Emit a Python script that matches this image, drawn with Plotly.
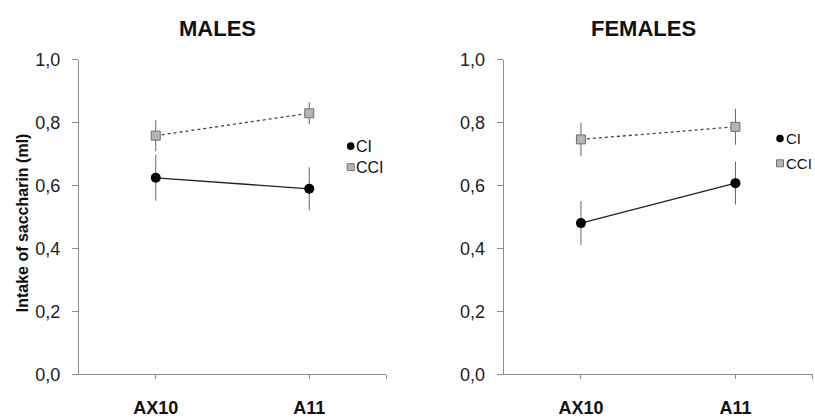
import plotly.graph_objects as go

categories = ["AX10", "A11"]
x_pos = [0, 1]

males_ci = [0.625, 0.590]
males_ci_err = [0.073, 0.068]
males_cci = [0.759, 0.830]
males_cci_err = [0.050, 0.035]

females_ci = [0.481, 0.608]
females_ci_err = [0.070, 0.068]
females_cci = [0.747, 0.787]
females_cci_err = [0.053, 0.057]

panel_titles = ["MALES", "FEMALES"]
y_title = "Intake of saccharin (ml)"
legend_names = ["CI", "CCI"]

W, H = 815, 419
FONT = "Liberation Sans, Arial, sans-serif"

fig = go.Figure()

def add_panel(xa, ya, ci, ci_err, cci, cci_err):
    fig.add_trace(go.Scatter(
        x=x_pos, y=cci, xaxis=xa, yaxis=ya, mode="lines+markers",
        line=dict(color="#444444", width=1.3, dash="dot"),
        marker=dict(symbol="square", size=9, color="#b5b5b5",
                    line=dict(color="#707070", width=1)),
        error_y=dict(type="data", array=cci_err, visible=True,
                     color="#666666", thickness=1, width=0),
        showlegend=False, name=legend_names[1]))
    fig.add_trace(go.Scatter(
        x=x_pos, y=ci, xaxis=xa, yaxis=ya, mode="lines+markers",
        line=dict(color="#222222", width=1.3),
        marker=dict(symbol="circle", size=10, color="#000000"),
        error_y=dict(type="data", array=ci_err, visible=True,
                     color="#666666", thickness=1, width=0),
        showlegend=False, name=legend_names[0]))

add_panel("x", "y", males_ci, males_ci_err, males_cci, males_cci_err)
add_panel("x2", "y2", females_ci, females_ci_err, females_cci, females_cci_err)

ydom = [(H - 382.7) / H, (H - 52.3) / H]
xdom1 = [79 / W, 386 / W]
xdom2 = [503.7 / W, 812.7 / W]

xcommon = dict(range=[-0.5, 1.5], tickmode="array",
               tickvals=[0, 1, 1.5], ticktext=categories + [""],
               showline=True, linecolor="#8c8c8c", linewidth=1,
               ticks="outside", ticklen=4, tickcolor="#8c8c8c",
               showgrid=False, zeroline=False,
               tickfont=dict(family=FONT, size=18, color="#111111", weight="bold"),
               ticklabelstandoff=13, fixedrange=True)
ycommon = dict(range=[0, 1], tickmode="array",
               tickvals=[0, 0.2, 0.4, 0.6, 0.8, 1.0], tickformat=".1f",
               showline=True, linecolor="#8c8c8c", linewidth=1,
               ticks="outside", ticklen=6, tickcolor="#8c8c8c",
               showgrid=False, zeroline=False,
               tickfont=dict(family=FONT, size=18, color="#222222"),
               ticklabelstandoff=8, fixedrange=True)

fig.update_layout(
    width=W, height=H, margin=dict(l=0, r=0, t=0, b=0),
    paper_bgcolor="white", plot_bgcolor="white",
    separators=",.",
    xaxis=dict(domain=xdom1, anchor="y", **xcommon),
    yaxis=dict(domain=ydom, anchor="x", **ycommon),
    xaxis2=dict(domain=xdom2, anchor="y2", **xcommon),
    yaxis2=dict(domain=ydom, anchor="x2", **ycommon),
)

annotations = [
    dict(text=panel_titles[0], x=217 / W, y=1 - 19 / H, xref="paper", yref="paper",
         xanchor="center", yanchor="middle", showarrow=False,
         font=dict(family=FONT, size=22, color="#111111", weight="bold")),
    dict(text=panel_titles[1], x=643 / W, y=1 - 19 / H, xref="paper", yref="paper",
         xanchor="center", yanchor="middle", showarrow=False,
         font=dict(family=FONT, size=22, color="#111111", weight="bold")),
    dict(text=y_title, x=22 / W, y=1 - 224 / H, xref="paper", yref="paper",
         xanchor="center", yanchor="middle", showarrow=False, textangle=-90,
         font=dict(family=FONT, size=16, color="#111111", weight="bold")),
]

shapes = []
legend_pos = [(350.7, 143, 165, 16), (780, 135, 161, 15)]
for (lx, ly1, ly2, fs) in legend_pos:
    shapes.append(dict(type="circle", xref="paper", yref="paper",
                       xsizemode="pixel", ysizemode="pixel",
                       xanchor=lx / W, yanchor=1 - ly1 / H,
                       x0=-3.8, x1=3.8, y0=-3.8, y1=3.8,
                       fillcolor="#000000", line=dict(width=0)))
    shapes.append(dict(type="rect", xref="paper", yref="paper",
                       xsizemode="pixel", ysizemode="pixel",
                       xanchor=lx / W, yanchor=1 - ly2 / H,
                       x0=-3.5, x1=3.5, y0=-3.5, y1=3.5,
                       fillcolor="#b5b5b5", line=dict(color="#707070", width=1)))
    annotations.append(dict(text=legend_names[0], x=(lx + 3.5) / W, y=1 - ly1 / H,
                            xref="paper", yref="paper", xanchor="left", yanchor="middle",
                            showarrow=False, font=dict(family=FONT, size=fs, color="#111111")))
    annotations.append(dict(text=legend_names[1], x=(lx + 3.5) / W, y=1 - ly2 / H,
                            xref="paper", yref="paper", xanchor="left", yanchor="middle",
                            showarrow=False, font=dict(family=FONT, size=fs, color="#111111")))

fig.update_layout(annotations=annotations, shapes=shapes)

fig.write_html("out.html")
